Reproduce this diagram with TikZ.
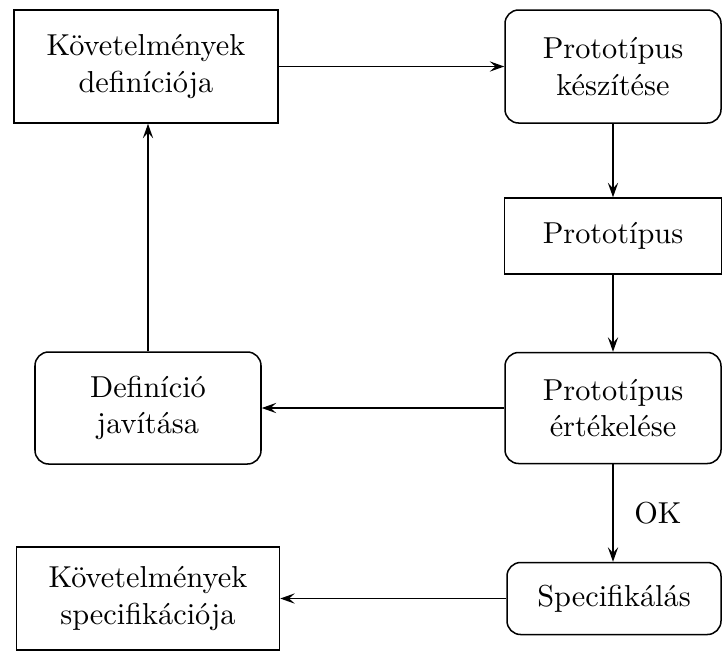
\documentclass[tikz,border=0pt]{standalone}
\usetikzlibrary{arrows.meta}
\begin{document}
\begin{tikzpicture}[x=0.33pt,y=-0.33pt,
  box/.style={draw,line width=0.5pt,align=center,inner sep=0pt},
  rbox/.style={box,rounded corners=4.5pt},
  flow/.style={draw,line width=0.45pt,-{Stealth[length=4.8pt,width=3.4pt,inset=1.9pt]}}]
  \useasboundingbox (0,0) rectangle (722,652);
  % left column
  \node[box,minimum width=264*0.33pt,minimum height=113*0.33pt] (kd) at (146,66.5) {Követelmények\\definíciója};
  \node[rbox,minimum width=226*0.33pt,minimum height=112*0.33pt] (dj) at (148,408) {Definíció\\javítása};
  \node[box,minimum width=263*0.33pt,minimum height=103*0.33pt] (ks) at (148,598.5) {Követelmények\\specifikációja};
  % right column
  \node[rbox,minimum width=216*0.33pt,minimum height=113*0.33pt] (pk) at (613,66.5) {Prototípus\\készítése};
  \node[box,minimum width=217*0.33pt,minimum height=76*0.33pt] (pt) at (613,236) {Prototípus};
  \node[rbox,minimum width=216*0.33pt,minimum height=111*0.33pt] (pe) at (613,408) {Prototípus\\értékelése};
  \node[rbox,minimum width=214*0.33pt,minimum height=72*0.33pt] (sp) at (614,598.5) {Specifikálás};
  % connectors
  \draw[flow] (kd.east) -- (pk.west);
  \draw[flow] (pk.south) -- (pk.south |- pt.north);
  \draw[flow] (pt.south) -- (pt.south |- pe.north);
  \draw[flow] (pe.west) -- (dj.east);
  \draw[flow] (dj.north) -- (dj.north |- kd.south);
  \draw[flow] (pe.south) -- node[right=3.5pt] {OK} (pe.south |- sp.north);
  \draw[flow] (sp.west) -- (sp.west -| ks.east);
\end{tikzpicture}
\end{document}
